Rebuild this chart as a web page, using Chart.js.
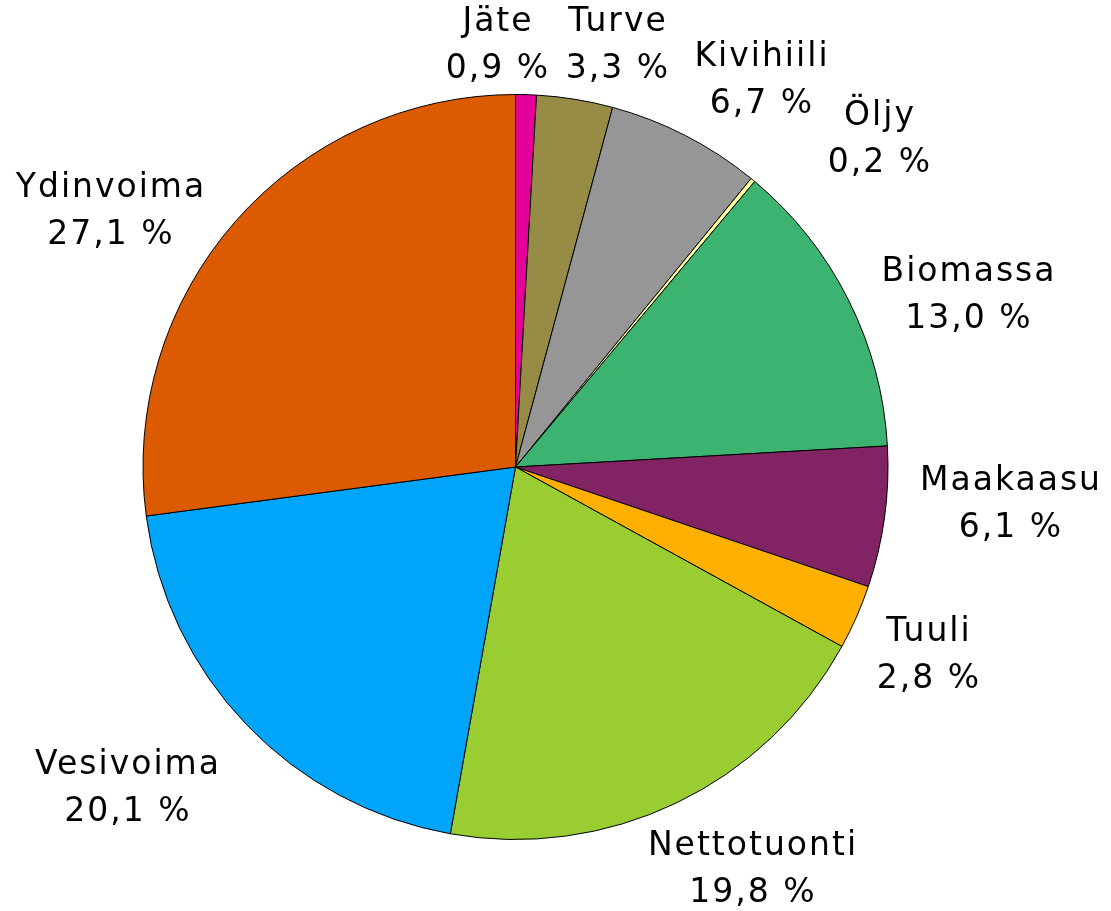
<!DOCTYPE html>
<html>
<head>
<meta charset="utf-8">
<script src="https://cdn.jsdelivr.net/npm/chart.js@4"></script>
<style>
    html, body { margin: 0; padding: 0; background: #ffffff; }
    #wrap { width: 1111px; height: 911px; }
</style>
</head>
<body>
<div id="wrap"><canvas id="chart" width="1111" height="911"></canvas></div>
<script>
// Energy sources, clockwise from 12 o'clock
const categories = ['Jäte', 'Turve', 'Kivihiili', 'Öljy', 'Biomassa', 'Maakaasu', 'Tuuli', 'Nettotuonti', 'Vesivoima', 'Ydinvoima'];
const shares = [0.9, 3.3, 6.7, 0.2, 13.0, 6.1, 2.8, 19.8, 20.1, 27.1];
const sliceColors = ['#E6009A', '#968C46', '#969696', '#FFFF99', '#3CB371', '#822364', '#FFB000', '#9ACD32', '#00A5FA', '#DC5A00'];

// Label centres (first line), placed by hand around the pie
const labelSpots = [
    [497, 22], [617, 22], [761, 57], [879, 116], [968, 272],
    [1010, 481], [928, 632], [752, 846], [127, 765], [110, 188]
];

const fmt = v => v.toFixed(1).replace('.', ',') + ' %';

const outsideLabels = {
    id: 'outsideLabels',
    afterDraw(chart) {
        const ctx = chart.ctx;
        ctx.save();
        ctx.font = '33px "DejaVu Sans", Verdana, sans-serif';
        ctx.letterSpacing = '2px';
        ctx.fillStyle = '#000000';
        ctx.textAlign = 'center';
        ctx.textBaseline = 'middle';
        categories.forEach((name, i) => {
            const [x, y] = labelSpots[i];
            // +1 offsets the trailing letter spacing
            ctx.fillText(name, x + 1, y);
            ctx.fillText(fmt(shares[i]), x + 1, y + 47);
        });
        ctx.restore();
    }
};

new Chart(document.getElementById('chart').getContext('2d'), {
    type: 'pie',
    data: {
        labels: categories,
        datasets: [{
            data: shares,
            backgroundColor: sliceColors,
            borderColor: '#000000',
            borderWidth: 1
        }]
    },
    options: {
        responsive: false,
        animation: false,
        layout: { padding: { left: 142, right: 222, top: 94, bottom: 71 } },
        plugins: {
            legend: { display: false },
            tooltip: { enabled: false }
        }
    },
    plugins: [outsideLabels]
});
</script>
</body>
</html>
